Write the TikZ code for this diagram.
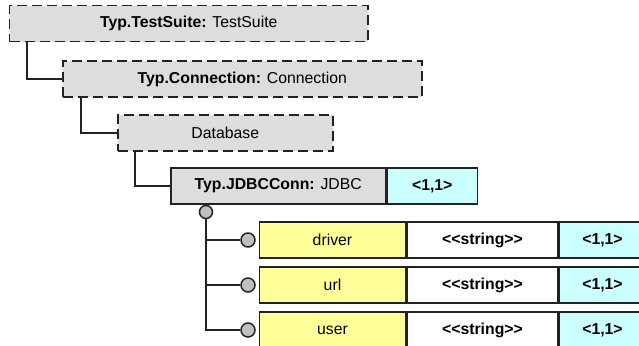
\documentclass[tikz,border=0pt]{standalone}
\usepackage{fontspec}
\setmainfont{Liberation Sans}
\usetikzlibrary{positioning}
\definecolor{cType}{HTML}{DDDDDD}
\definecolor{cAttr}{HTML}{FFFF99}
\definecolor{cCard}{HTML}{CCFFFF}
\definecolor{cLine}{HTML}{222222}
\definecolor{cPort}{HTML}{C0C0C0}
\tikzset{
  cell/.style={draw=cLine, line width=0.75pt, inner sep=0pt, minimum height=18pt,
    font=\fontsize{7.9}{9.5}\selectfont, anchor=west},
  abstract/.style={cell, fill=cType, dash pattern=on 5pt off 2.5pt},
  concrete/.style={cell, fill=cType},
  attr/.style={cell, fill=cAttr, minimum width=73pt},
  dtype/.style={cell, fill=white, minimum width=75.5pt},
  card/.style={cell, fill=cCard},
  port/.style={circle, draw=cLine, line width=0.75pt, fill=cPort, inner sep=0pt},
  link/.style={draw=cLine, line width=0.75pt},
}

\begin{document}
\begin{tikzpicture}[x=0.5pt, y=-0.5pt]
    \useasboundingbox (0,0) rectangle (639,345);
    \clip (0,0) rectangle (639,345);
    % --- type hierarchy ---
    \node[abstract, minimum width=179pt] (suite) at (9,23.5) {\textbf{Typ.TestSuite:} TestSuite};
    \node[abstract, minimum width=179.5pt] (conn) at (62,79) {\textbf{Typ.Connection:} Connection};
    \node[abstract, minimum width=107.5pt] (db) at (117,133) {Database};
    \node[concrete, minimum width=107.5pt] (jdbc) at (170,186) {\textbf{Typ.JDBCConn:} JDBC};
    \node[card, minimum width=45pt, right=0pt of jdbc] (jdbccard) {\textbf{<1,1>}};
    \draw[link] ([xshift=9pt]suite.south west) |- (conn.west);
    \draw[link] ([xshift=9.5pt]conn.south west) |- (db.west);
    \draw[link] ([xshift=9pt]db.south west) |- (jdbc.west);
    % --- attributes ---
    \node[port, minimum size=7pt] (drvport) at (248,240) {};
    \node[port, minimum size=7pt] (urlport) at (248,285) {};
    \node[port, minimum size=7pt] (usrport) at (248,330) {};
    \node[attr, right=1.5pt of drvport] (drv) {driver};
    \node[dtype, right=0pt of drv] (drvtype) {\textbf{<{}<string>{}>}};
    \node[card, minimum width=43pt, right=0pt of drvtype] (drvcard) {\textbf{<1,1>}};
    \node[attr, right=1.5pt of urlport] (url) {url};
    \node[dtype, right=0pt of url] (urltype) {\textbf{<{}<string>{}>}};
    \node[card, minimum width=43pt, right=0pt of urltype] (urlcard) {\textbf{<1,1>}};
    \node[attr, right=1.5pt of usrport] (usr) {user};
    \node[dtype, right=0pt of usr] (usrtype) {\textbf{<{}<string>{}>}};
    \node[card, minimum width=43pt, right=0pt of usrtype] (usrcard) {\textbf{<1,1>}};
    % tree lines, port on top
    \node[port, minimum size=6.5pt, anchor=north] (jport) at ([xshift=18pt]jdbc.south west) {};
    \draw[link] (jport.south) |- (usrport.west);
    \draw[link] (jport.south |- drvport) -- (drvport.west);
    \draw[link] (jport.south |- urlport) -- (urlport.west);
  \end{tikzpicture}
\end{document}
